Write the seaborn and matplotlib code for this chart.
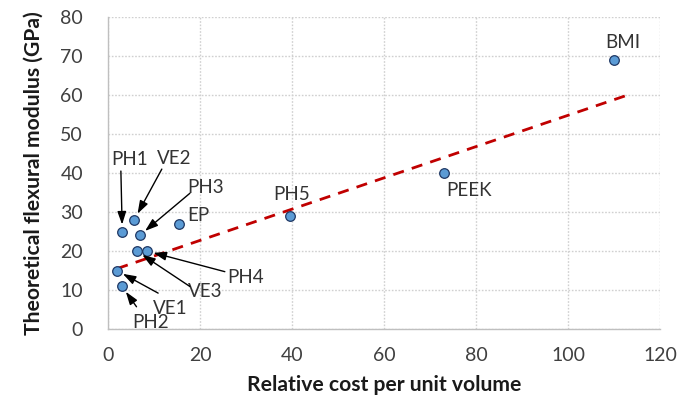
import matplotlib
matplotlib.use("Agg")
import matplotlib.pyplot as plt
import seaborn as sns
import pandas as pd

# ---- data ----
materials = ["BMI", "PEEK", "PH5", "PH1", "VE2", "PH3", "EP", "VE3", "PH4", "VE1", "PH2"]
relative_cost = [110.0, 73.1, 39.6, 3.1, 5.7, 6.9, 15.4, 6.2, 8.4, 1.9, 3.0]
flexural_modulus = [69.0, 40.0, 29.0, 25.0, 28.0, 24.0, 27.0, 20.0, 20.0, 15.0, 11.0]

trend_cost = [2.0, 113.0]
trend_modulus = [15.5, 60.0]

x_ticks = [0, 20, 40, 60, 80, 100, 120]
y_ticks = [0, 10, 20, 30, 40, 50, 60, 70, 80]

df = pd.DataFrame({"material": materials, "cost": relative_cost, "modulus": flexural_modulus})
trend = pd.DataFrame({"cost": trend_cost, "modulus": trend_modulus})

sns.set_theme(style="white")
plt.rcParams["font.family"] = ["Lato", "DejaVu Sans"]

fig = plt.figure(figsize=(6.9, 4.01), dpi=100)
ax = fig.add_axes([108 / 690, 1 - 329 / 401, 552 / 690, 312 / 401])

sns.lineplot(data=trend, x="cost", y="modulus", ax=ax, color="#C00000",
             linestyle=(0, (4, 3)), linewidth=2, zorder=2)
sns.scatterplot(data=df, x="cost", y="modulus", ax=ax, s=48, color="#5B9BD5",
                edgecolor="#1F3864", linewidth=0.9, zorder=3)

# label placement: text centre, arrow tail (None = no arrow), alignment
label_pos = {
    "BMI": ((112.0, 73.5), None, "center"),
    "PEEK": ((78.5, 35.5), None, "center"),
    "PH5": ((40.0, 34.5), None, "center"),
    "EP": ((17.3, 29.0), None, "left"),
    "PH1": ((4.6, 43.5), (2.8, 40.5), "center"),
    "VE2": ((14.3, 43.6), (11.7, 41.0), "center"),
    "PH3": ((21.3, 36.4), (17.8, 34.8), "center"),
    "PH4": ((29.9, 13.3), (25.4, 14.7), "center"),
    "VE3": ((21.2, 9.6), (17.8, 10.9), "center"),
    "VE1": ((13.6, 5.2), (10.9, 9.2), "center"),
    "PH2": ((9.2, 1.7), (6.2, 5.7), "center"),
}
for name, cx, cy in zip(materials, relative_cost, flexural_modulus):
    (tx, ty), tail, ha = label_pos[name]
    ax.text(tx, ty, name, ha=ha, va="center", fontsize=13.5, color="#333333", zorder=4)
    if tail is not None:
        ax.annotate("", xy=(cx, cy), xytext=tail,
                    arrowprops=dict(arrowstyle="-|>,head_length=0.65,head_width=0.22",
                                    color="black", lw=1.0,
                                    mutation_scale=12, shrinkA=0, shrinkB=5),
                    zorder=4)

ax.set_xlim(0, 120)
ax.set_ylim(0, 80)
ax.set_xticks(x_ticks)
ax.set_yticks(y_ticks)
ax.tick_params(axis="both", labelsize=14, colors="#404040", length=0)
ax.tick_params(axis="x", pad=13)
ax.tick_params(axis="y", pad=18)
ax.grid(True, color="#D0D0D0", linestyle=(0, (1.2, 1.2)), linewidth=1)
ax.set_axisbelow(True)
for side in ["top", "right"]:
    ax.spines[side].set_visible(False)
for side in ["left", "bottom"]:
    ax.spines[side].set_color("#BFBFBF")
    ax.spines[side].set_linewidth(1)

ax.set_xlabel("Relative cost per unit volume", fontsize=15.2, fontweight="bold",
              color="#1a1a1a", labelpad=8)
ax.set_ylabel("Theoretical flexural modulus (GPa)", fontsize=15.2, fontweight="bold",
              color="#1a1a1a", labelpad=12)

fig.savefig("out.png", dpi=100)
